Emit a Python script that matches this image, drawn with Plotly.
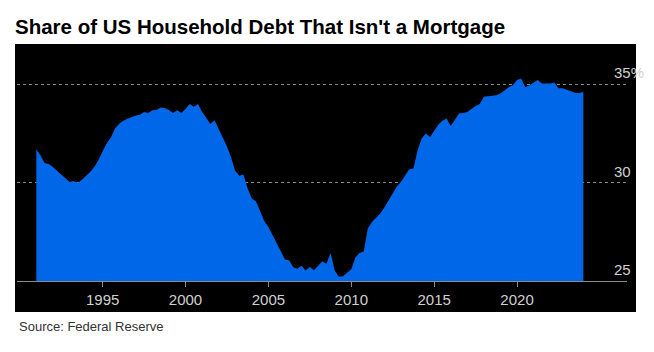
import plotly.graph_objects as go
import pandas as pd

# Quarterly share of US household debt that isn't a mortgage (%), 1991Q1 .. 2024Q1
values_by_year = {
    1991: [31.7, 31.4, 31.0, 30.95],
    1992: [30.8, 30.6, 30.4, 30.2],
    1993: [30.04, 30.08, 29.98, 30.15],
    1994: [30.35, 30.55, 30.8, 31.15],
    1995: [31.6, 32.0, 32.3, 32.75],
    1996: [33.0, 33.15, 33.25, 33.35],
    1997: [33.42, 33.45, 33.6, 33.55],
    1998: [33.69, 33.7, 33.83, 33.8],
    1999: [33.7, 33.55, 33.69, 33.55],
    2000: [33.75, 34.0, 33.86, 34.0],
    2001: [33.6, 33.3, 32.98, 33.18],
    2002: [32.75, 32.3, 31.85, 31.3],
    2003: [30.6, 30.35, 30.42, 29.7],
    2004: [29.2, 29.05, 28.5, 28.05],
    2005: [27.75, 27.35, 26.9, 26.5],
    2006: [26.09, 26.05, 25.7, 25.62],
    2007: [25.78, 25.54, 25.71, 25.55],
    2008: [25.75, 26.0, 25.88, 26.43],
    2009: [25.54, 25.22, 25.24, 25.4],
    2010: [25.6, 26.19, 26.43, 26.5],
    2011: [27.67, 28.0, 28.2, 28.43],
    2012: [28.75, 29.1, 29.5, 29.8],
    2013: [30.05, 30.4, 30.68, 30.72],
    2014: [31.65, 32.25, 32.5, 32.33],
    2015: [32.67, 32.95, 33.15, 33.27],
    2016: [32.88, 33.18, 33.52, 33.55],
    2017: [33.6, 33.75, 33.9, 34.0],
    2018: [34.37, 34.4, 34.42, 34.45],
    2019: [34.54, 34.7, 34.85, 34.96],
    2020: [35.22, 35.3, 34.85, 34.96],
    2021: [35.1, 35.22, 35.05, 35.05],
    2022: [35.05, 35.1, 34.8, 34.8],
    2023: [34.72, 34.65, 34.57, 34.55],
    2024: [34.62],
}

share = []
for yr in sorted(values_by_year):
    share.extend(values_by_year[yr])
dates = pd.date_range("1991-01-01", periods=len(share), freq="QS")

x_tick_years = [1995, 2000, 2005, 2010, 2015, 2020]
y_tick_values = [25, 30, 35]
y_tick_labels = ["25", "30", "35%"]

BLUE = "#0067e8"
LABEL = "#d0d0d0"
FONT = "Liberation Sans, Arial, sans-serif"

fig = go.Figure()
fig.add_trace(go.Scatter(
    x=dates, y=share, mode="lines", fill="tozeroy",
    line=dict(width=0, color=BLUE), fillcolor=BLUE, hoverinfo="skip",
))

W, H = 654, 352
L, R, T, B = 17, 27, 60, 71
pw, ph = W - L - R, H - T - B

def px_x(p):
    return (p - L) / pw

def px_y(p):
    return (H - B - p) / ph

fig.add_shape(type="rect", xref="paper", yref="paper",
              x0=px_x(15), x1=px_x(636), y0=px_y(312), y1=px_y(44),
              fillcolor="black", line=dict(width=0), layer="below")

for v, t in zip(y_tick_values, y_tick_labels):
    fig.add_annotation(x=px_x(612), xref="paper", y=v, yref="y",
                       text=t, showarrow=False, xanchor="left", yanchor="bottom",
                       yshift=1, font=dict(family=FONT, size=15, color=LABEL))

fig.add_annotation(x=0, xref="paper", y=px_y(326), yref="paper",
                   text="Source: Federal Reserve", showarrow=False,
                   xanchor="left", yanchor="middle",
                   font=dict(family=FONT, size=13, color="#333333"))

fig.update_layout(
    width=W, height=H,
    margin=dict(l=L, r=R, t=T, b=B),
    paper_bgcolor="white", plot_bgcolor="black",
    showlegend=False,
    title=dict(text="<b>Share of US Household Debt That Isn't a Mortgage</b>",
               x=15 / W, xanchor="left", xref="container",
               y=1 - 27 / H, yanchor="middle", yref="container",
               font=dict(family=FONT, size=20.5, color="black")),
    xaxis=dict(
        type="date",
        range=["1989-11-01", "2026-08-20"],
        tickvals=[pd.Timestamp(f"{y}-01-01") for y in x_tick_years],
        ticktext=[str(y) for y in x_tick_years],
        showgrid=False, zeroline=False,
        showline=True, linecolor="#8c8c8c", linewidth=1,
        ticks="outside", ticklen=5, tickcolor="#8c8c8c",
        tickfont=dict(family=FONT, size=15, color=LABEL),
    ),
    yaxis=dict(
        range=[25, 36.24],
        tickvals=y_tick_values, showticklabels=False,
        showgrid=True, gridcolor="#8a8a8a", griddash="dot", gridwidth=1,
        zeroline=False, showline=False, ticks="",
    ),
)

fig.write_html("out.html")
